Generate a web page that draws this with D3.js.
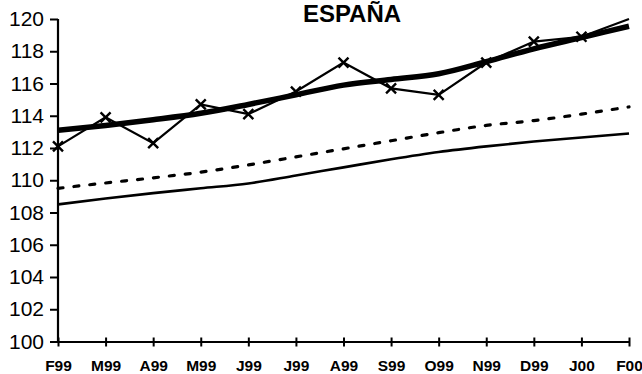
<!DOCTYPE html>
<html><head><meta charset="utf-8">
<script src="https://cdn.jsdelivr.net/npm/d3@7"></script>
<style>html,body{margin:0;padding:0;background:#fff;overflow:hidden}</style>
</head><body>
<svg id="c" width="642" height="374"></svg>
<script>
const title = "ESPAÑA";
const months = ["F99","M99","A99","M99","J99","J99","A99","S99","O99","N99","D99","J00","F00"];
const yTicks = [100,102,104,106,108,110,112,114,116,118,120];
const observed = [112.1,113.9,112.3,114.7,114.1,115.5,117.3,115.7,115.3,117.3,118.6,118.9,120.0];
const trend = [113.1,113.4,113.75,114.15,114.7,115.3,115.9,116.25,116.6,117.35,118.15,118.85,119.55];
const dashed = [109.5,109.83,110.15,110.5,110.95,111.45,111.95,112.45,112.95,113.4,113.7,114.1,114.55];
const lower = [108.5,108.87,109.2,109.5,109.8,110.3,110.8,111.3,111.75,112.1,112.4,112.65,112.9];

const svg = d3.select("#c");
const x = d3.scaleLinear().domain([0, months.length-1]).range([58, 629]);
const y = d3.scaleLinear().domain([100,120]).range([341.5, 19]);
const font = "'Liberation Sans', Arial, sans-serif";

// title
svg.append("text").attr("x", 352).attr("y", 22).attr("text-anchor","middle")
  .attr("font-family", font).attr("font-weight","bold").attr("font-size", 24).text(title);

// y axis
const ya = svg.append("g").attr("transform","translate(58,0)")
  .call(d3.axisLeft(y).tickValues(yTicks).tickSize(8).tickPadding(6).tickFormat(d3.format("d")));
ya.select(".domain").attr("stroke","#000").attr("stroke-width",2.2).attr("d", `M0,${y(120)}V${y(100)}`);
ya.selectAll(".tick line").attr("stroke","#000").attr("stroke-width",2);
ya.selectAll(".tick text").attr("font-family", font).attr("font-size", 21).attr("fill","#000");

// x axis
const xa = svg.append("g").attr("transform",`translate(0,${y(100)})`)
  .call(d3.axisBottom(x).tickValues(d3.range(months.length)).tickSize(0).tickPadding(18).tickFormat(i => months[i]));
xa.select(".domain").attr("stroke","#000").attr("stroke-width",2.2);
xa.selectAll(".tick line").remove();
xa.selectAll(".tick").append("line").attr("y1",-4).attr("y2",5).attr("stroke","#000").attr("stroke-width",2);
xa.selectAll(".tick text").attr("font-family", font).attr("font-weight","bold").attr("font-size", 15.5).attr("fill","#000").attr("dy","0.75em");

const smooth = d3.line().x((d,i)=>x(i)).y(d=>y(d)).curve(d3.curveMonotoneX);
const straight = d3.line().x((d,i)=>x(i)).y(d=>y(d));

svg.append("path").attr("d", smooth(lower)).attr("fill","none").attr("stroke","#000").attr("stroke-width",2.6);
svg.append("path").attr("d", smooth(dashed)).attr("fill","none").attr("stroke","#000").attr("stroke-width",3.2)
  .attr("stroke-dasharray","5,11").attr("stroke-linecap","round");
svg.append("path").attr("d", straight(observed)).attr("fill","none").attr("stroke","#000").attr("stroke-width",2.2);
svg.append("path").attr("d", smooth(trend)).attr("fill","none").attr("stroke","#000").attr("stroke-width",5.5);

// X markers
const s = 5;
svg.append("g").selectAll("path").data(observed.slice(0, observed.length-1)).join("path")
  .attr("d",(d,i)=>{const cx=x(i), cy=y(d); return `M${cx-s},${cy-s}L${cx+s},${cy+s}M${cx-s},${cy+s}L${cx+s},${cy-s}`;})
  .attr("stroke","#000").attr("stroke-width",2.4).attr("fill","none");
</script>
</body></html>
